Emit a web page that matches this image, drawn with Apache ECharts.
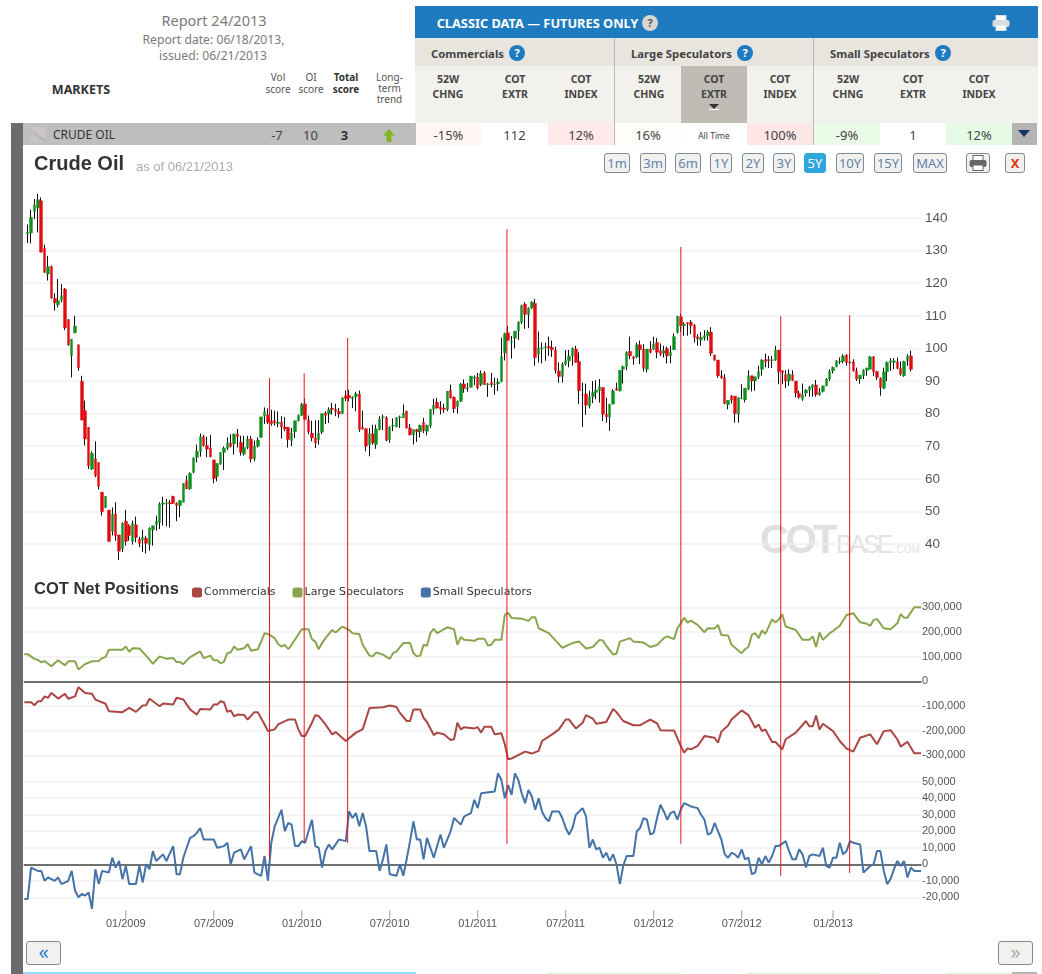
<!DOCTYPE html>
<html><head><meta charset="utf-8">
<script src="https://cdn.jsdelivr.net/npm/echarts@6/dist/echarts.min.js"></script>
<style>
html,body{margin:0;padding:0;background:#fff;}
#page{position:relative;width:1042px;height:974px;overflow:hidden;font-family:"Noto Sans",sans-serif;color:#444;}
#page .t{position:absolute;white-space:nowrap;line-height:1;}
#page .b{position:absolute;box-sizing:border-box;}
#chart{position:absolute;left:0;top:0;width:1042px;height:974px;z-index:10;}
.btn{position:absolute;box-sizing:border-box;top:153px;height:20px;border:1px solid #7d8b99;border-radius:3px;background:#f2f1ee;color:#5f82ad;font:13px/18px "Noto Sans",sans-serif;text-align:center;}
</style></head><body>
<div id="page"><div id="chart"></div></div>
<script>
// ---- Weekly crude oil candles: [open, close, low, high]
const priceCandles = [
[135.1,135.6,132.3,138],[135.4,140.2,132.2,142.6],[142,144,139.7,145.8],[143.1,145.6,135.6,147.4],[145.3,129.5,129.5,146.3],
[130.7,123.3,123.3,131.8],[122.8,125.1,120.8,128.4],[125.1,115.5,115.2,125.4],[115.3,114,111.6,116.9],[113.4,114.6,112.6,121.3],
[114.8,116.2,114.1,119.8],[118.2,106.3,105.6,118.5],[108.8,101.1,100.8,109],[97.8,102.8,91.1,102.9],[104.8,106.8,104.6,110],
[101.1,94,93.2,101.2],[89.9,78,78,91.6],[80.9,72.2,70.2,84],[75.8,64,63,75.8],[63,67.8,62.7,68.4],
[66.1,61,60.5,71.5],[65,57.7,56.7,65],[55.9,49.9,48.7,55.9],[51.2,54.6,51,54.6],[50.4,40.8,40.8,50.4],
[43.9,49.2,42.6,51.2],[49.2,42.6,41,52.8],[42.8,37.8,35.1,42.8],[38.5,46.4,37.5,46.6],[47,40.8,39.5,50.5],
[45.6,42.6,41,46.1],[40.8,46.3,39.8,47.2],[45.9,42,40.5,48.4],[41.5,40.2,39,42.2],[41.2,42,37.5,44.4],
[41.8,40.2,37.1,42.5],[39.8,44.9,38,45.1],[44.3,45.6,39.5,45.6],[45.9,47,44.1,48.7],[46.6,52.3,44.6,52.8],
[52.2,52.6,45.7,54.5],[52.4,52.6,45.4,53.8],[52.7,52.3,45.1,53.5],[54.6,52.5,52.3,54.8],[52.5,51.8,47,52.8],
[51.8,53.3,48.2,53.5],[52.8,58.6,52.8,58.6],[59.4,56.9,56.9,61],[56.9,61.7,56.6,62],[62,66.4,61.7,66.6],
[66.6,68.4,65,70.5],[68.4,72.9,66.8,73.9],[72.9,70.2,69.9,73.5],[70.2,69.1,66.6,72.9],[69.4,66.8,66.6,73.5],
[65.8,60.1,58.6,65.8],[60.7,64.7,59.2,64.7],[64.5,68.1,64.3,68.1],[68.1,69.4,62.7,69.9],[69.4,71,68.8,72.7],
[71,69.9,69.6,73.7],[70.7,73.7,67.4,73.9],[73.7,72.9,69.6,75.3],[71.2,68.1,67.1,73.2],[67.6,69.6,67.1,73.2],
[69.6,72.2,69.1,73.2],[72.2,66.1,65,73.2],[66.1,70,65.4,71.7],[70,71.9,69.6,72.7],[72.7,79,72.7,79],
[79.2,80.6,76.8,81.9],[79.6,77.3,76.8,81.6],[77.8,76.8,76.3,81.2],[77.8,77.2,76.3,80.9],[76.9,77.4,75.8,80.6],
[77.4,75.9,72.3,79.2],[75.9,75.3,74.6,78.9],[75.8,72,69.6,75.8],[71.7,74,70,75.6],[74.4,77.8,72.5,77.8],
[77.8,79.5,77.6,79.7],[79.5,82.8,79.3,83.3],[83,78.2,78.2,84.6],[78,74.4,73.7,79.4],[74,72.5,71.5,77.8],
[72.5,71,69.4,77.9],[72,74,70.5,78],[74.3,80,73.7,80],[80.2,79.5,76.8,80.7],[79.9,81.2,77.1,81.9],
[81.7,81.3,79.7,83.3],[81.3,80.7,79.2,83],[80.7,79.9,78.7,81.7],[80,84.8,80,85.1],[85.5,84.6,83.8,87.1],
[85.6,84.8,83.8,87.3],[84.6,85.1,81.7,85.3],[85.2,86,80.7,86.7],[86,75.1,74.4,87.1],[75.9,75.4,75.1,80.9],
[75.4,70,68.4,75.4],[70.5,73.8,66.9,75.6],[73.8,71,70.5,76.6],[70.5,75.3,69.2,76.6],[75.1,78.2,74.9,79.2],
[78.8,79,74.9,79.7],[78.7,71.8,71.5,79.2],[72,75.9,71,76.1],[76.2,76.4,74.6,78.5],[75.9,78.7,75.8,78.9],
[78.8,79,75.6,79.4],[78.7,80.2,78.7,82.8],[80.7,75.6,75.4,80.9],[75.6,73.5,73.3,76.8],[73.5,75.1,70.5,75.1],
[75.1,74.4,71.3,75.3],[74.4,76.4,72.7,76.6],[77.3,74.8,74,78.7],[74.6,76.4,73.3,76.6],[76.3,81.3,75.6,81.3],
[81.3,82.5,79.7,84.6],[83.5,81.7,81.5,84.8],[82,81.3,79.7,83.8],[81.7,81.3,80.2,83],[81.3,86.9,80.7,86.9],
[87.1,84.8,84.6,88.9],[85,81.5,80.2,85.3],[82.2,83.8,80,84],[83.8,89.1,83.6,89.4],[89.1,87.7,86.4,90.5],
[87.6,87.8,86.7,89.4],[88.1,91.5,87.9,91.5],[90.8,91.2,88.7,91.7],[91.2,87.9,87.4,92.5],[88.9,92.3,88.4,93.2],
[92.5,88.9,88.9,93],[88.9,89.1,85.1,89.4],[89.7,88.9,88.1,92.5],[88.9,89.1,85.8,91],[89.1,89.7,86.9,90.8],
[89.7,97.5,89.7,103.3],[98.6,104.5,96.3,104.8],[104.8,102.5,102.3,106.9],[101.9,102.1,96.9,103.8],[103.1,105.3,100,105.3],
[105.4,108,102.6,108.3],[108,113.1,107.5,113.4],[113.6,110.4,106,114.2],[110.4,112.4,106.2,112.6],[112.4,114.2,112.1,114.5],
[113.8,97.2,94.7,115.2],[98.2,100.1,95.7,105.2],[100,100.2,95.4,101.8],[100.2,100.5,96.2,101.8],[100.6,100.1,97.7,103.6],
[100.3,99.6,97.4,102.4],[99.5,93.3,92.3,100.5],[93.1,91.4,89.5,95.7],[91.4,95.2,89.5,95.7],[95.2,96.2,94.7,99.5],
[96.2,97.7,94.2,99.5],[97.7,100,94.7,100.3],[99.8,95.7,95.7,100.8],[96,87,82.9,98.8],[85.8,85.7,75.9,89.5],
[86,82.6,79.6,89.2],[82.3,85.1,81.6,87],[85.2,86.5,83.2,90],[86.5,87.2,84.4,90.2],[87,88.2,83.4,90.6],
[88,79.8,77.7,88],[79.8,79,77.2,84.9],[79,82.9,74.7,82.9],[82.9,87,82.9,87.5],[87.7,87.2,87,89.5],
[87,93.3,86.8,93.3],[93.6,94.4,89.2,94.7],[94.4,98.8,93.3,99.1],[99.1,97.7,96.7,103.6],[97.4,96.9,95,97.7],
[97.4,101.1,97,101.8],[101.1,99.6,95.2,102.4],[99.8,93.9,92.9,101.3],[93.6,99.8,92.6,99.8],[99.8,98.8,98.5,102.2],
[99.8,101.3,99.5,103.6],[101.8,98.8,97,103.2],[99.3,98.2,97.7,101.5],[98.5,99.3,97.2,100.8],[100,97.7,95.4,100.5],
[97.7,98.8,95.4,100.8],[99.6,103.6,99.5,104.6],[104.9,109.8,104.6,110],[109.7,107,105,110.6],[107,107.5,103.9,108],
[107.9,107.5,103.9,108],[108,107,104.4,108.7],[107,103.4,101.8,107.5],[103.6,102.9,100.8,104.4],[102.6,103.4,100.8,105],
[103.2,103.9,102.4,105.6],[103.9,105,102.4,105.6],[105,98.5,97.7,106.5],[98,96.4,96.2,98],[96.4,91.6,91,96.4],
[91.6,91,90.6,93.3],[91,83.1,82.9,92.1],[82.7,84.1,81.3,84.1],[85.4,84.1,83.1,85.7],[85.4,80,77.2,85.4],
[79.8,84.9,77.2,84.9],[84.6,84.7,84.4,89],[84.2,87.8,83.4,87.8],[87.5,91.6,87.2,93.3],[91.6,90,86.8,91.6],
[90,91.3,87,91.3],[91.3,92.9,90.6,94.7],[93.6,96.4,91.6,96.7],[96.6,96,94.2,98.4],[96.6,96.2,94,97.7],
[96.3,96.5,94,97.7],[96.4,99.5,96.2,100.8],[99.5,92.9,89,99.5],[93.1,92.6,89,93.3],[91.9,90,87.8,93.3],
[90,92.1,88.5,93.6],[91.9,90.3,90,93.3],[90,86.3,85,90],[86.2,85,84.6,87],[84.4,85.8,83.9,89.2],
[86.3,87.2,85.2,87.5],[87.2,88.2,85.2,88.5],[88,88.8,85.2,89],[88.8,85.8,85.2,90.3],[85.8,86.5,85.5,87.8],
[86.8,88.5,86.5,88.5],[88.5,90.6,88.5,90.9],[90.6,92.9,90,93.6],[93.1,94.2,92.3,94.4],[94.4,96.2,94.2,96.4],
[95.9,96.1,95.2,97.2],[96,97.7,95.4,98.2],[98,95.7,94.7,98.2],[95.6,95.8,95,98.2],[95.9,93.1,92.9,96.7],
[93.1,90.6,90,94.1],[90.6,91.8,89.2,91.8],[91.6,93.3,90.6,93.6],[93.3,93.9,91.6,94.1],[93.6,97.4,93.6,97.7],
[97.4,92.9,91.6,97.7],[92.9,91.1,90.3,93.1],[90.8,88,85.5,91.1],[87.8,92.8,87.5,94.1],[92.9,95.7,90,96],
[95.7,96.2,93.1,97],[95.7,96.2,93.6,97],[95.9,93.9,93.6,97.2],[93.9,92.1,91.6,96],[91.6,96,91.3,96.2],
[96.2,97.7,94.7,98.2],[97.7,93.6,92.9,99.3]
];
// ---- COT net positions, thousands of contracts: [week, value]
const largeSpeculators = [[0,110],[1,110],[3,91],[4,87],[5,77],[6,82],[8,61],[10,85],[12,65],[13,81],[15,81],[16,48],[18,70],[20,81],[22,82],[23,94],[24,98],[25,128],[29,128],[30,141],[31,120],[32,134],[34,133],[36,104],[38,71],[40,101],[42,91],[44,94],[45,78],[46,78],[47,70],[49,98],[52,121],[53,94],[55,104],[56,85],[57,85],[58,73],[59,79],[60,114],[61,118],[62,141],[63,128],[65,134],[66,151],[67,124],[69,130],[70,161],[71,195],[72,192],[74,175],[75,151],[76,141],[77,148],[78,130],[79,148],[82,211],[84,211],[85,171],[86,161],[87,130],[88,155],[89,175],[91,208],[92,198],[94,222],[96,208],[97,195],[99,192],[100,148],[102,104],[103,101],[104,117],[106,108],[108,91],[109,114],[110,121],[112,155],[114,155],[115,114],[116,101],[117,104],[118,148],[119,144],[120,195],[121,213],[122,195],[125,219],[127,211],[128,148],[129,179],[130,168],[133,164],[134,172],[136,172],[137,145],[138,148],[139,168],[141,168],[142,269],[143,278],[144,257],[147,254],[149,245],[150,260],[151,260],[152,215],[155,195],[157,165],[159,136],[162,155],[164,161],[166,133],[168,139],[170,168],[171,165],[172,144],[174,109],[175,112],[176,161],[179,175],[180,161],[183,157],[185,139],[187,147],[189,175],[190,182],[192,171],[193,215],[194,235],[195,258],[196,238],[197,246],[199,229],[201,199],[202,215],[204,214],[205,229],[206,188],[208,186],[209,148],[212,114],[213,130],[214,139],[215,188],[216,195],[217,175],[218,206],[219,192],[221,251],[222,238],[223,251],[224,272],[225,222],[228,208],[230,168],[232,168],[233,182],[234,139],[235,198],[236,168],[238,195],[239,204],[241,225],[243,269],[245,276],[247,239],[249,233],[250,225],[251,249],[252,252],[254,215],[256,211],[258,235],[259,272],[260,258],[261,258],[263,300],[265,300]];
const commercials = [[0,-85],[2,-85],[3,-97],[4,-81],[5,-81],[6,-61],[7,-67],[8,-47],[10,-70],[12,-51],[13,-71],[15,-61],[16,-24],[18,-47],[20,-50],[21,-74],[24,-91],[25,-121],[29,-125],[31,-108],[33,-124],[35,-98],[36,-97],[37,-71],[40,-101],[41,-90],[44,-94],[45,-67],[47,-74],[49,-114],[51,-135],[52,-112],[55,-114],[56,-94],[57,-94],[58,-81],[59,-85],[60,-124],[61,-118],[62,-142],[63,-135],[65,-137],[66,-155],[68,-125],[69,-125],[71,-175],[72,-202],[74,-195],[75,-175],[78,-155],[80,-155],[81,-195],[82,-222],[83,-222],[85,-168],[86,-137],[87,-141],[89,-175],[91,-215],[92,-206],[95,-242],[98,-208],[100,-195],[102,-108],[106,-105],[108,-98],[110,-104],[111,-128],[113,-161],[114,-161],[115,-114],[117,-114],[118,-148],[119,-165],[121,-218],[122,-208],[124,-215],[126,-238],[127,-235],[128,-168],[129,-195],[130,-186],[133,-191],[134,-186],[135,-208],[136,-184],[138,-184],[139,-215],[141,-211],[142,-255],[143,-316],[144,-313],[148,-285],[150,-293],[152,-282],[153,-242],[156,-215],[158,-195],[160,-155],[161,-155],[163,-191],[165,-168],[166,-137],[168,-151],[169,-172],[172,-165],[174,-112],[175,-125],[177,-161],[180,-178],[182,-178],[185,-155],[187,-171],[188,-198],[191,-199],[192,-199],[194,-262],[195,-289],[196,-272],[197,-276],[199,-262],[201,-222],[204,-229],[205,-249],[206,-204],[208,-179],[209,-155],[212,-118],[214,-137],[216,-188],[217,-175],[218,-202],[219,-195],[221,-246],[222,-246],[224,-276],[225,-235],[228,-208],[231,-161],[232,-182],[233,-182],[234,-139],[235,-195],[236,-172],[239,-202],[241,-242],[243,-273],[245,-285],[247,-229],[250,-215],[252,-255],[254,-202],[256,-198],[258,-235],[259,-265],[261,-245],[263,-292],[265,-292]];
const smallSpeculators = [[0,-21],[1,-21],[2,-2],[4,-4],[5,-4],[6,-10],[7,-8],[8,-9],[9,-10],[10,-8],[11,-12],[13,-10],[14,-4],[15,-16],[16,-20],[17,-18],[18,-19],[19,-17],[20,-27],[21,-3],[22,-12],[23,-4],[25,-5],[26,4],[27,-2],[28,2],[29,-9],[30,-1],[31,-12],[33,-12],[34,-1],[35,-11],[36,0],[37,-3],[38,8],[39,2],[41,6],[42,2],[44,11],[45,-6],[46,-6],[47,4],[48,10],[49,16],[50,17],[51,19],[52,22],[53,15],[56,15],[57,10],[59,11],[60,13],[61,0],[62,7],[64,9],[65,3],[67,11],[68,-5],[70,-7],[71,5],[72,-10],[73,13],[74,23],[75,28],[76,33],[77,20],[78,25],[79,24],[80,11],[81,11],[82,14],[83,13],[85,27],[86,11],[87,10],[88,-2],[89,8],[90,12],[91,9],[93,15],[95,14],[96,32],[97,28],[98,31],[99,23],[100,31],[101,23],[102,8],[104,8],[105,-4],[106,3],[107,12],[108,-6],[110,-7],[111,0],[112,-7],[113,3],[114,14],[115,26],[116,15],[117,15],[118,3],[119,16],[121,4],[123,18],[124,10],[126,20],[127,28],[129,24],[130,29],[132,31],[133,39],[134,34],[135,43],[139,44],[140,55],[141,51],[142,40],[143,48],[144,42],[145,55],[146,51],[147,43],[148,37],[149,45],[150,41],[151,33],[152,40],[153,32],[154,28],[155,26],[156,32],[158,32],[159,28],[160,22],[161,18],[162,22],[163,30],[165,34],[166,29],[167,10],[168,15],[169,9],[170,10],[171,4],[172,7],[173,2],[174,6],[175,0],[176,-12],[177,-1],[178,5],[180,5],[181,20],[182,22],[183,28],[184,27],[185,18],[186,19],[187,28],[188,36],[189,32],[190,27],[191,31],[192,32],[193,27],[194,33],[195,37],[197,35],[199,34],[200,30],[201,27],[202,18],[203,19],[204,25],[205,20],[206,15],[207,6],[208,4],[209,7],[210,6],[211,4],[212,9],[213,3],[214,4],[215,-6],[216,-5],[217,4],[218,0],[219,5],[220,1],[221,5],[222,11],[223,11],[225,14],[226,8],[227,3],[228,3],[229,9],[230,6],[231,-2],[232,5],[233,6],[235,5],[236,10],[237,-1],[238,-2],[239,4],[240,4],[241,13],[242,6],[243,8],[244,14],[245,13],[247,12],[248,-5],[250,-1],[251,0],[252,8],[253,8],[254,-4],[255,-12],[256,-9],[257,-3],[258,2],[259,-1],[260,2],[261,-8],[262,-2],[263,-4],[265,-4]];
// ---- Date axis
const dateTickWeeks = [30,56,82,108,134,160,186,212,239];
const dateTickLabels = ['01/2009','07/2009','01/2010','07/2010','01/2011','07/2011','01/2012','07/2012','01/2013'];
const cotWeekCount = 266;
// ---- Signal verticals: week on the price axis, and the price-scale extents of each line
const signalWeeks = [72.2,82.4,95.2,142.1,193.3,222.7,243];
const signalTops = [90.9,92.4,103.2,136.6,131.1,109.9,110.2];
const signalBottoms = [-56.6,-51.7,-51.7,-52,-52,-61.8,-60.9];
// ---- Date tick extents on the small speculators scale
const dateTickFrom = -27.9;
const dateTickTo = -32.7;
// ---- Page text
const seriesNames = ['Commercials','Large Speculators','Small Speculators'];
const seriesColors = ['#AA4643','#89A54E','#4572A7'];
const rangeButtons = ['1m','3m','6m','1Y','2Y','3Y','5Y','10Y','15Y','MAX'];
const rangeButtonEdges = [[604,630],[640,666],[675,701],[710,732],[742,764],[773,795],[804,826],[836,864],[874,902],[913,947]];
const headerColumns = [['52W','CHNG',448],['COT','EXTR',515],['COT','INDEX',581],['52W','CHNG',649],['COT','EXTR',714],['COT','INDEX',780],['52W','CHNG',848],['COT','EXTR',913],['COT','INDEX',979]];
const rowCells = [['-15%',416,481,'#fff5f2'],['112',481,548,'#ffffff'],['12%',548,614,'#ffe9e9'],['16%',615,681,'#fffdfb'],['',681,747,'#ffffff'],['100%',747,813,'#ffe6e6'],['-9%',814,880,'#eafbe8'],['1',880,946,'#ffffff'],['12%',946,1012,'#e6fbe6']];

// ---- DOM chrome
const page = document.getElementById('page');
function box(x,y,w,h,bg,extra){const d=document.createElement('div');d.className='b';d.style.cssText=`left:${x}px;top:${y}px;width:${w}px;height:${h}px;background:${bg};${extra||''}`;page.appendChild(d);return d;}
function text(s,x,y,size,color,opt){opt=opt||{};const d=document.createElement('div');d.className='t';d.textContent=s;
 const tr=opt.align==='c'?'translate(-50%,-50%)':opt.align==='r'?'translate(-100%,-50%)':'translateY(-50%)';
 d.style.cssText=`left:${x}px;top:${y}px;font-size:${size}px;color:${color};transform:${tr};font-weight:${opt.bold?700:400};font-family:${opt.font||'"Noto Sans",sans-serif'};${opt.extra||''}`;page.appendChild(d);return d;}
function help(x,y,bg,fg){const d=text('?',x,y,11,fg,{align:'c',bold:true,extra:`width:16px;height:16px;line-height:16px;border-radius:50%;text-align:center;background:${bg};`});return d;}
function printer(x,y,c,hl){const s=document.createElement('div');s.className='t';s.style.cssText=`left:${x}px;top:${y}px;width:18px;height:16px;`;
 s.innerHTML=`<svg width="18" height="16" viewBox="0 0 18 16"><rect x="4" y="0.5" width="10" height="5" fill="${hl}" stroke="${c}"/><rect x="0.5" y="5" width="17" height="7" rx="2" fill="${c}"/><rect x="4" y="10" width="10" height="5.5" fill="${hl}" stroke="${c}"/></svg>`;page.appendChild(s);}

box(11,123,12,851,'#6b6a6c');
box(23,123,393,22,'#bebebe');
box(415,6,623,32,'#1f7bc0');
box(415,38,623,28,'#e8e5df');
box(415,66,623,57,'#f2f1ed');
box(681,66,66,57,'#bfbcb5');
rowCells.forEach(c=>box(c[1],123,c[2]-c[1],22,c[3]));
box(1012,123,25,22,'#b4b4b4');
box(614,38,1,107,'#b9b7b1');box(813,38,1,107,'#b9b7b1');
// bottom strip
box(23,972,393,2,'#90dcf7');box(548,972,133,2,'#e6fbe6');box(747,972,133,2,'#e6fbe6');box(946,972,66,2,'#e6fbe6');box(1012,972,25,2,'#b4b4b4');
// watermark
const wm=document.createElement('div');wm.className='t';wm.style.cssText='left:760px;top:519px;font-family:"Liberation Sans",sans-serif;';
wm.innerHTML='<span style="font-size:40px;font-weight:700;color:#e0e0e0;letter-spacing:-3.5px">COT</span><span style="font-size:25px;color:#e2e2e2;letter-spacing:-3px;margin-left:2px">BASE</span><span style="font-size:10px;color:#e2e2e2;margin-left:3px">.COM</span>';page.appendChild(wm);

text('Report 24/2013',214,20,14.5,'#7a7a7a',{align:'c'});
text('Report date: 06/18/2013,',213.5,39.5,12.2,'#7a7a7a',{align:'c'});
text('issued: 06/21/2013',213,55.5,12.2,'#7a7a7a',{align:'c'});
text('MARKETS',81,90,12.6,'#333',{align:'c',bold:true});
[['Vol',278,77],['score',278,89],['OI',311,77],['score',311,89]].forEach(a=>text(a[0],a[1],a[2],10,'#555',{align:'c'}));
[['Total',346,77],['score',346,89]].forEach(a=>text(a[0],a[1],a[2],10,'#333',{align:'c',bold:true}));
[['Long-',389.5,77],['term',389.5,88],['trend',389.5,99]].forEach(a=>text(a[0],a[1],a[2],10,'#555',{align:'c'}));
text('CLASSIC DATA — FUTURES ONLY',537.5,23,12.8,'#fff',{align:'c',bold:true});
help(650,23,'#d9d6cf','#555');
printer(992,15,'#d7dde3','#fff');
text('Commercials',431,53.5,11.3,'#444',{bold:true});help(517,53,'#1f7bc0','#fff');
text('Large Speculators',631,53.5,11.3,'#444',{bold:true});help(745,53,'#1f7bc0','#fff');
text('Small Speculators',830,53.5,11.3,'#444',{bold:true});help(943,53,'#1f7bc0','#fff');
headerColumns.forEach(c=>{text(c[0],c[2],79,10.5,'#444',{align:'c',bold:true});text(c[1],c[2],94,10.5,'#444',{align:'c',bold:true});});
const tri=document.createElement('div');tri.className='t';tri.style.cssText='left:709px;top:104px;width:0;height:0;border-left:5px solid transparent;border-right:5px solid transparent;border-top:5px solid #333;border-bottom:none;box-shadow:0 1px 0 #fff;';page.appendChild(tri);
text('CRUDE OIL',53,134.5,12,'#333');
const spark=document.createElement('div');spark.className='t';spark.style.cssText='left:31px;top:127px;width:15px;height:15px;background:#c6c6c6;';
spark.innerHTML='<svg width="15" height="15"><polyline points="0,3 5,6 9,10 15,13" fill="none" stroke="#d99" stroke-width="1"/><polyline points="0,5 5,8 9,12 15,14" fill="none" stroke="#9b9" stroke-width="1"/></svg>';page.appendChild(spark);
text('-7',277,134.5,13,'#444',{align:'c'});text('10',310.5,134.5,13,'#444',{align:'c'});text('3',344.5,134.5,13,'#333',{align:'c',bold:true});
const arrow=document.createElement('div');arrow.className='t';arrow.style.cssText='left:383px;top:128px;width:12px;height:13px;';
arrow.innerHTML='<svg width="12" height="13" viewBox="0 0 12 13"><path d="M6 0 L12 6.5 L8.5 6.5 L8.5 13 L3.5 13 L3.5 6.5 L0 6.5 Z" fill="#7fb51e"/></svg>';page.appendChild(arrow);
rowCells.forEach(c=>{if(c[0])text(c[0],(c[1]+c[2])/2,134.5,13,'#444',{align:'c'});});
text('All Time',714,136,8.5,'#444',{align:'c'});
const dn=document.createElement('div');dn.className='t';dn.style.cssText='left:1018px;top:130px;width:0;height:0;border-left:6px solid transparent;border-right:6px solid transparent;border-top:7px solid #16306a;';page.appendChild(dn);

rangeButtons.forEach((b,i)=>{const e=rangeButtonEdges[i],d=document.createElement('div');d.className='btn';d.textContent=b;
 d.style.left=e[0]+'px';d.style.width=(e[1]-e[0])+'px';if(b==='5Y'){d.style.background='#2fa6dc';d.style.color='#fff';d.style.borderColor='#2fa6dc';}page.appendChild(d);});
const pb=document.createElement('div');pb.className='btn';pb.style.left='966px';pb.style.width='24px';page.appendChild(pb);printer(969,155,'#666','#fff');
const xb=document.createElement('div');xb.className='btn';xb.textContent='X';xb.style.cssText+='left:1005px;width:20px;color:#e8320c;font-weight:700;';page.appendChild(xb);
[['«',26,'#2d7fc4'],['»',998,'#a8b0b6']].forEach(a=>{const d=document.createElement('div');d.className='btn';d.textContent=a[0];d.style.cssText+=`left:${a[1]}px;top:941px;width:35px;height:24px;font-size:20px;line-height:19px;color:${a[2]};`;page.appendChild(d);});

// ---- Chart
const chart = echarts.init(document.getElementById('chart'), null, {renderer:'canvas'});
const paddedCandles = [['-','-','-','-']].concat(priceCandles);
const bodyOnly = [['-','-','-','-']].concat(priceCandles.map(c=>[c[0],c[1],Math.min(c[0],c[1]),Math.max(c[0],c[1])]));
const priceCats = paddedCandles.map((_,i)=>String(i)).concat(['x','y','z']);
const cotCats = Array.from({length:cotWeekCount},(_,i)=>{const k=dateTickWeeks.indexOf(i);return k>=0?dateTickLabels[k]:String(i);});
const isDateTick=i=>dateTickWeeks.indexOf(i)>=0;
const split={show:true,lineStyle:{color:'#f1f1f1',width:1.5}};
const cotFmt=v=>v===0?'0':v+',000';
const lines=[commercials,largeSpeculators,smallSpeculators];
const L=24.3,W=896.7;
const vLine=(stroke)=>(p,api)=>{const a=api.coord([api.value(0),api.value(1)]),b=api.coord([api.value(0),api.value(2)]);
  return {type:'line',shape:{x1:a[0],y1:a[1],x2:b[0],y2:b[1]},style:{stroke:stroke,lineWidth:1}};};
chart.setOption({
 animation:false,
 title:[
  {text:'Crude Oil',left:34,top:154,padding:0,textStyle:{fontFamily:'Liberation Sans',fontSize:20,fontWeight:'bold',color:'#333'}},
  {text:'as of 06/21/2013',left:136,top:161,padding:0,textStyle:{fontFamily:'Liberation Sans',fontSize:13,fontWeight:'normal',color:'#aaa'}},
  {text:'COT Net Positions',left:34,top:581,padding:0,textStyle:{fontFamily:'Liberation Sans',fontSize:16.5,fontWeight:'bold',color:'#333'}}
 ],
 legend:{data:seriesNames,left:192,top:587,padding:0,itemWidth:10,itemHeight:10,itemGap:17,icon:'roundRect',selectedMode:false,
  textStyle:{fontFamily:'DejaVu Sans',fontSize:11,color:'#333',padding:[0,0,0,-3]}},
 grid:[
  {left:L,width:W,top:218,height:326},
  {left:L,width:W,top:607.3,height:148},
  {left:L,width:W,top:781.7,height:115.6}
 ],
 xAxis:[
  {type:'category',gridIndex:0,data:priceCats,boundaryGap:false,show:false},
  {type:'value',gridIndex:0,min:0,max:264,show:false},
  {type:'category',gridIndex:1,data:cotCats,boundaryGap:false,axisLine:{onZero:true,lineStyle:{color:'#444',width:1.5}},axisTick:{show:false},axisLabel:{show:false},splitLine:{show:false}},
  {type:'category',gridIndex:2,data:cotCats,boundaryGap:false,axisLine:{onZero:true,lineStyle:{color:'#444',width:1.5}},axisTick:{show:false},axisLabel:{show:false},splitLine:{show:false}},
  {type:'category',gridIndex:2,data:cotCats,boundaryGap:false,position:'bottom',offset:13,axisLine:{show:false,onZero:false},axisTick:{show:false},
   axisLabel:{show:true,interval:isDateTick,margin:8,fontFamily:'Liberation Sans',fontSize:11,color:'#555',hideOverlap:false},splitLine:{show:false}}
 ],
 yAxis:[
  {type:'value',gridIndex:0,position:'right',min:40,max:140,interval:10,axisLine:{show:false},axisTick:{show:false},
   axisLabel:{margin:4,fontFamily:'Liberation Sans',fontSize:13.5,color:'#555'},splitLine:split},
  {type:'value',gridIndex:1,position:'right',min:-300,max:300,interval:100,axisLine:{show:false},axisTick:{show:false},
   axisLabel:{margin:1,fontFamily:'Liberation Sans',fontSize:11,color:'#555',formatter:cotFmt},splitLine:split},
  {type:'value',gridIndex:2,position:'right',min:-20,max:50,interval:10,axisLine:{show:false},axisTick:{show:false},
   axisLabel:{margin:1,fontFamily:'Liberation Sans',fontSize:11,color:'#555',formatter:cotFmt},splitLine:split}
 ],
 series:[
  {type:'candlestick',name:'wick',xAxisIndex:0,yAxisIndex:0,data:paddedCandles,barWidth:1,clip:false,silent:true,z:2,
   itemStyle:{color:'#111',color0:'#111',borderColor:'#111',borderColor0:'#111',borderColorDoji:'#111',borderWidth:1}},
  {type:'candlestick',name:'body',xAxisIndex:0,yAxisIndex:0,data:bodyOnly,barWidth:3,clip:false,silent:true,z:3,
   itemStyle:{color:'#0f8f1f',color0:'#e00a12',borderColor:'#0f8f1f',borderColor0:'#e00a12',borderColorDoji:'#444',borderWidth:0.4}},
  {type:'line',name:seriesNames[0],xAxisIndex:2,yAxisIndex:1,data:lines[0],showSymbol:false,clip:false,z:4,lineStyle:{color:seriesColors[0],width:2},itemStyle:{color:seriesColors[0]},silent:true},
  {type:'line',name:seriesNames[1],xAxisIndex:2,yAxisIndex:1,data:lines[1],showSymbol:false,clip:false,z:4,lineStyle:{color:seriesColors[1],width:2},itemStyle:{color:seriesColors[1]},silent:true},
  {type:'line',name:seriesNames[2],xAxisIndex:3,yAxisIndex:2,data:lines[2],showSymbol:false,clip:false,z:4,lineStyle:{color:seriesColors[2],width:2},itemStyle:{color:seriesColors[2]},silent:true},
  {type:'custom',name:'signals',xAxisIndex:1,yAxisIndex:0,silent:true,z:6,
   data:signalWeeks.map((w,i)=>[w,signalTops[i],signalBottoms[i]]),encode:{x:0,y:[1,2]},renderItem:vLine('#e8121a')},
  {type:'custom',name:'dateTicks',xAxisIndex:3,yAxisIndex:2,silent:true,z:5,
   data:dateTickWeeks.map(w=>[w,dateTickFrom,dateTickTo]),encode:{x:0,y:[1,2]},renderItem:vLine('#999')}
 ]
});
</script>
</body></html>
